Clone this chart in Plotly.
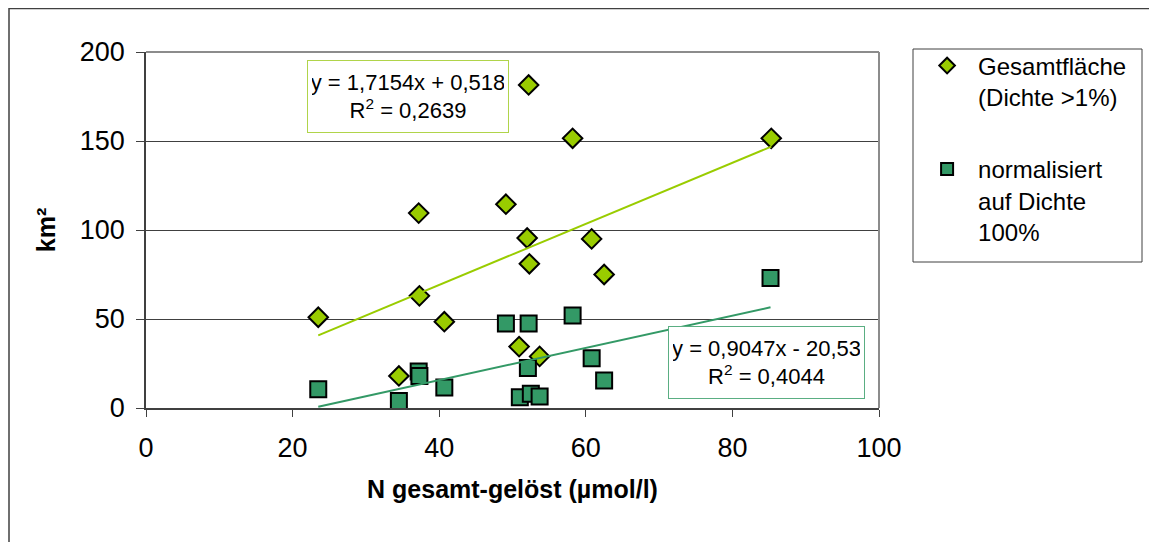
import plotly.graph_objects as go

# ---- data ----
n_gesamt = [23.5, 34.5, 37.2, 37.3, 40.7, 49.1, 52.2, 52.0, 52.3, 50.9, 53.7, 58.2, 60.8, 62.5, 85.3]
flaeche_gesamt = [51, 18, 109.5, 63, 48.5, 114.5, 181.5, 95.5, 81, 34.5, 29, 151.5, 95, 75, 151.5]

n_norm = [23.5, 34.5, 37.2, 37.3, 40.7, 49.1, 52.2, 58.2, 52.1, 51.0, 52.5, 53.7, 60.8, 62.5, 85.2]
flaeche_norm = [10.5, 4, 20.5, 18, 11.5, 47.5, 47.5, 52, 22.5, 6, 8, 6.5, 28, 15.5, 73]

trend_slope = [1.7154, 0.9047]
trend_intercept = [0.518, -20.53]
trend_text = ["y = 1,7154x + 0,518", "y = 0,9047x - 20,53"]
r2_text = ["0,2639", "0,4044"]

series_names = ["Gesamtfläche<br>(Dichte >1%)", "normalisiert<br>auf Dichte<br>100%"]
x_ticks = [0, 20, 40, 60, 80, 100]
y_ticks = [0, 50, 100, 150, 200]
x_title = "N gesamt-gelöst (µmol/l)"
y_title = "km²"

LIME = "#99CC00"
GREEN = "#339966"
FONT = "Liberation Sans, Arial, sans-serif"

fig = go.Figure()

fig.add_trace(go.Scatter(
    x=n_gesamt, y=flaeche_gesamt, mode="markers", name=series_names[0],
    legendgroup="a",
    marker=dict(symbol="diamond", size=15, color=LIME, line=dict(color="black", width=2)),
    cliponaxis=False))
fig.add_trace(go.Scatter(
    x=n_norm, y=flaeche_norm, mode="markers", name=series_names[1],
    legendgroup="b",
    marker=dict(symbol="square", size=16, color=GREEN, line=dict(color="black", width=2)),
    cliponaxis=False))

for xs, k, color in [(n_gesamt, 0, LIME), (n_norm, 1, GREEN)]:
    x0, x1 = min(xs), max(xs)
    fig.add_trace(go.Scatter(
        x=[x0, x1], y=[trend_slope[k] * x0 + trend_intercept[k], trend_slope[k] * x1 + trend_intercept[k]],
        mode="lines", line=dict(color=color, width=2), showlegend=False, hoverinfo="skip"))

axis_common = dict(
    ticks="outside", tickcolor="#404040", showline=True, linecolor="#404040", linewidth=1.5,
    zeroline=False, tickfont=dict(family=FONT, size=27, color="black"))

fig.update_xaxes(range=[0, 100], tickvals=x_ticks, ticklen=7, showgrid=False,
                 ticklabelstandoff=8,
                 title=dict(text=f"<b>{x_title}</b>", standoff=18,
                            font=dict(family=FONT, size=25, color="black")),
                 **axis_common)
fig.update_yaxes(range=[0, 200], tickvals=y_ticks, ticklen=8, showgrid=True, gridcolor="#404040",
                 gridwidth=1, ticklabelstandoff=6,
                 title=dict(text=f"<b>{y_title}</b>", standoff=17,
                            font=dict(family=FONT, size=25, color="black")),
                 **axis_common)

shapes = [
    # outer chart frame
    dict(type="rect", xref="paper", yref="paper", x0=-0.1869, x1=1.5, y0=-0.5, y1=1.122,
         line=dict(color="#404040", width=1.5), layer="below"),
    # plot area top / right border
    dict(type="line", xref="paper", yref="paper", x0=0, x1=1, y0=1, y1=1,
         line=dict(color="#8c8c8c", width=2)),
    dict(type="line", xref="paper", yref="paper", x0=1, x1=1, y0=0, y1=1,
         line=dict(color="#8c8c8c", width=2)),
    # legend box
    dict(type="rect", xref="paper", yref="paper", x0=1.0464, x1=1.3588, y0=0.4101, y1=1.0084,
         line=dict(color="#404040", width=1)),
]

annotations = [
    dict(text=f"{trend_text[0]}<br>R<sup>2</sup> = {r2_text[0]}", x=35.8, y=174.8,
         xref="x", yref="y", showarrow=False, xanchor="center", yanchor="middle", align="center",
         width=192, height=63, borderpad=4, bordercolor="#b0d44a", borderwidth=1, bgcolor="white",
         font=dict(family=FONT, size=22, color="black")),
    dict(text=f"{trend_text[1]}<br>R<sup>2</sup> = {r2_text[1]}", x=84.7, y=25.3,
         xref="x", yref="y", showarrow=False, xanchor="center", yanchor="middle", align="center",
         width=187, height=63, borderpad=4, bordercolor="#5aae82", borderwidth=1, bgcolor="white",
         font=dict(family=FONT, size=22, color="black")),
]

fig.update_layout(
    width=1149, height=534,
    margin=dict(l=138, r=278, t=44, b=134, autoexpand=False),
    paper_bgcolor="white", plot_bgcolor="white",
    font=dict(family=FONT, color="black"),
    shapes=shapes, annotations=annotations,
    showlegend=True,
    legend=dict(x=1.0506, y=1.024, xanchor="left", yanchor="top", bgcolor="rgba(0,0,0,0)",
                borderwidth=0, font=dict(family=FONT, size=24, color="black"),
                valign="top", itemsizing="constant", itemwidth=52, tracegroupgap=38,
                traceorder="grouped"),
)

fig.write_html("out.html")
